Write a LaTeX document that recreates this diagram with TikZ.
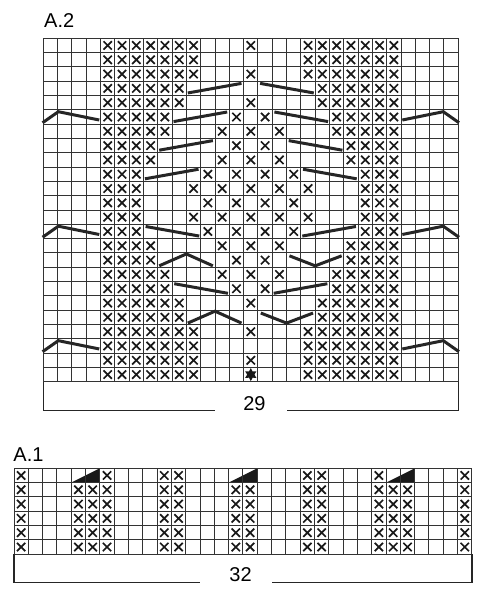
\documentclass[tikz,border=0pt]{standalone}
\usepackage{fontspec}
\setmainfont{Liberation Sans}
\usetikzlibrary{shapes.geometric}
\tikzset{
  gridline/.style   = { line width=1pt, black!80 },
  cross/.style      = { line width=1.7pt, black!90 },
  cable/.style      = { line width=3pt, black!85 },
  bracket/.style    = { line width=1.4pt, black!85 },
  chip/.style       = { fill=black!90 },
  chartlabel/.style = { font=\fontsize{20}{24}\selectfont, inner sep=0pt }
}
% one row of purl crosses: row, list of columns
\newcommand{\xrow}[2]{\foreach \col in {#2} {\draw[cross] (\col-0.79,#1-0.79) -- (\col-0.21,#1-0.21) (\col-0.79,#1-0.21) -- (\col-0.21,#1-0.79);}}
% slanted bars: first column, last column, row
\newcommand{\slantup}[3]{\draw[cable] (#1-0.9,#3-0.18) -- (#2-0.15,#3-0.85);}
\newcommand{\slantdown}[3]{\draw[cable] (#1-0.85,#3-0.85) -- (#2-0.1,#3-0.18);}
\newcommand{\peakup}[3]{\draw[cable] (#1-0.9,#3-0.1) -- ({(#1+#2-1)/2},#3-0.93) -- (#2-0.15,#3-0.1);}
\newcommand{\peakdown}[3]{\draw[cable] (#1-0.8,#3-0.8) -- ({(#1+#2-1)/2},#3-0.1) -- (#2-0.15,#3-0.8);}
\newcommand{\wings}[1]{\draw[cable] (-0.05,#1-0.1) -- (1.05,#1-0.87) -- (3.91,#1-0.29);
  \draw[cable] (25.09,#1-0.29) -- (27.95,#1-0.87) -- (29.05,#1-0.1);}

\begin{document}
\begin{tikzpicture}
  \useasboundingbox (0,0) rectangle (487pt,-600pt);
  % Chart A.2
  \begin{scope}[shift={(43.3pt,-38.3pt)}, x=14.31pt, y=-14.31pt]
    \node[chartlabel, anchor=base west] (titleA) at (0.05,-0.74) {A.2};
    % Draw grid
    \foreach \i in {0,...,29} \draw[gridline] (\i,0) -- (\i,24);
    \foreach \j in {0,...,24} \draw[gridline] (0,\j) -- (29,\j);
    % Draw purl stitches
    \xrow{1}{5,6,7,8,9,10,11,15,19,20,21,22,23,24,25}
    \xrow{2}{5,6,7,8,9,10,11,19,20,21,22,23,24,25}
    \xrow{3}{5,6,7,8,9,10,11,15,19,20,21,22,23,24,25}
    \xrow{4}{5,6,7,8,9,10,20,21,22,23,24,25}
    \xrow{5}{5,6,7,8,9,10,15,20,21,22,23,24,25}
    \xrow{6}{5,6,7,8,9,14,16,21,22,23,24,25}
    \xrow{7}{5,6,7,8,9,13,15,17,21,22,23,24,25}
    \xrow{8}{5,6,7,8,14,16,22,23,24,25}
    \xrow{9}{5,6,7,8,13,15,17,22,23,24,25}
    \xrow{10}{5,6,7,12,14,16,18,23,24,25}
    \xrow{11}{5,6,7,11,13,15,17,19,23,24,25}
    \xrow{12}{5,6,7,12,14,16,18,23,24,25}
    \xrow{13}{5,6,7,11,13,15,17,19,23,24,25}
    \xrow{14}{5,6,7,12,14,16,18,23,24,25}
    \xrow{15}{5,6,7,8,13,15,17,22,23,24,25}
    \xrow{16}{5,6,7,8,14,16,22,23,24,25}
    \xrow{17}{5,6,7,8,9,13,15,17,21,22,23,24,25}
    \xrow{18}{5,6,7,8,9,14,16,21,22,23,24,25}
    \xrow{19}{5,6,7,8,9,10,15,20,21,22,23,24,25}
    \xrow{20}{5,6,7,8,9,10,20,21,22,23,24,25}
    \xrow{21}{5,6,7,8,9,10,11,15,19,20,21,22,23,24,25}
    \xrow{22}{5,6,7,8,9,10,11,19,20,21,22,23,24,25}
    \xrow{23}{5,6,7,8,9,10,11,15,19,20,21,22,23,24,25}
    \xrow{24}{5,6,7,8,9,10,11,19,20,21,22,23,24,25}
    % Draw cables
    \slantup{11}{14}{4}  \slantdown{16}{19}{4}
    \slantup{10}{13}{6}  \slantdown{17}{20}{6}
    \slantup{9}{12}{8}   \slantdown{18}{21}{8}
    \slantup{8}{11}{10}  \slantdown{19}{22}{10}
    \slantdown{8}{11}{14} \slantup{19}{22}{14}
    \peakup{9}{12}{16}   \peakdown{18}{21}{16}
    \slantdown{10}{13}{18} \slantup{17}{20}{18}
    \peakup{11}{14}{20}  \peakdown{16}{19}{20}
    \wings{6} \wings{14} \wings{22}
    \node[star, star points=6, star point ratio=1.8, minimum size=13pt, inner sep=0pt, chip] (startmark) at (14.5,23.5) {};
    % Draw width bracket
    \draw[bracket] (0,24) -- (0,26.02) -- (12,26.02);
    \draw[bracket] (29,24) -- (29,26.02) -- (17,26.02);
    \node[chartlabel, anchor=base] (widthA) at (14.75,26.02) {29};
  \end{scope}
  % Chart A.1
  \begin{scope}[shift={(14pt,-468.3pt)}, x=14.31pt, y=-14.31pt]
    \node[chartlabel, anchor=base west] (titleB) at (-0.05,-0.46) {A.1};
    \fill[chip] (4,1) -- (6,0) -- (6,1) -- cycle;
    \fill[chip] (15,1) -- (17,0) -- (17,1) -- cycle;
    \fill[chip] (26,1) -- (28,0) -- (28,1) -- cycle;
    % Draw grid
    \foreach \i in {0,...,32} \draw[gridline] (\i,0) -- (\i,6);
    \foreach \j in {0,...,6} \draw[gridline] (0,\j) -- (32,\j);
    % Draw purl stitches
    \xrow{1}{1,7,11,12,21,22,26,32}
    \foreach \r in {2,...,6} {\xrow{\r}{1,5,6,7,11,12,16,17,21,22,26,27,28,32}}
    % Draw width bracket
    \draw[bracket] (0,6) -- (0,8) -- (13,8);
    \draw[bracket] (32,6) -- (32,8) -- (18,8);
    \node[chartlabel, anchor=base] (widthB) at (15.83,7.93) {32};
  \end{scope}
\end{tikzpicture}
\end{document}
